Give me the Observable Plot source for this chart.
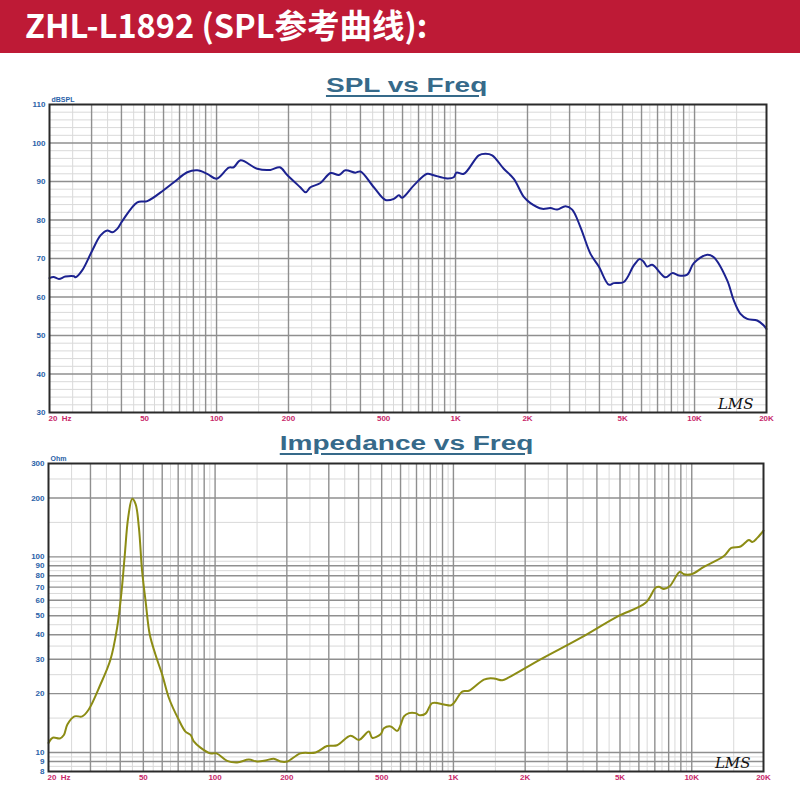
<!DOCTYPE html>
<html>
<head>
<meta charset="utf-8">
<script src="https://cdn.jsdelivr.net/npm/d3@7"></script>
<script src="https://cdn.jsdelivr.net/npm/@observablehq/plot@0.6"></script>
<style>
  html, body { margin: 0; padding: 0; background: #fff; }
  #page { position: relative; width: 800px; height: 800px; overflow: hidden; background: #fff; }
  #header { position: absolute; left: 0; top: 0; width: 800px; height: 53px; background: #BE1A36; }
  #header span { position: absolute; left: 25px; top: 4px; font-family: "Noto Sans CJK SC", "Noto Sans", sans-serif; font-weight: 700; font-size: 32.5px; line-height: 40px; color: #fff; white-space: nowrap; }
  .title { position: absolute; left: 0; width: 814px; text-align: center; }
  .title span { display: inline-block; transform: scaleX(1.4); transform-origin: center; font-family: "Liberation Sans", Arial, sans-serif; font-weight: 700; font-size: 20px; line-height: 20px; color: #366A8A; text-decoration: underline; text-decoration-thickness: 2px; text-underline-offset: 3px; white-space: nowrap; }
  .chart { position: absolute; left: 0; }
</style>
</head>
<body>
<div id="page">
  <div id="header"><span>ZHL-L1892 (SPL参考曲线):</span></div>
  <div class="title" style="top:75px"><span>SPL vs Freq</span></div>
  <div class="title" style="top:433px"><span>Impedance vs Freq</span></div>
  <div class="chart" id="c1" style="top:60px"></div>
  <div class="chart" id="c2" style="top:440px"></div>
</div>
<script>
// ---- SPL data (Hz, dB SPL) ----
const splFreq = [20,20.8,21.9,23.3,25.3,25.7,27.4,30.2,32.7,34.9,36.6,38.4,40.3,46.6,51.3,60.2,66.3,75.4,83,91.4,100,112.5,118,126,148,168,184,197.5,224,236,247,272,300,325,346,381,400,455,509,552,579,598,669,761,811,923,983,1009,1083,1251,1334,1423,1591,1753,1930,2058,2304,2496,2662,2884,3076,3333,3670,3976,4378,4594,5058,5570,5902,6134,6336,6650,7558,8062,8594,9318,9928,11298,12038,13696,14594,15566,16606,18290,19486,20000];
const splDb = [64.9,65.2,64.7,65.3,65.4,65.1,66.9,72.1,76,77.3,76.8,77.7,79.7,84.6,84.9,87.8,89.8,92.4,92.9,92.0,90.7,93.6,93.7,95.5,93.3,93.0,93.7,91.7,88.5,87.2,88.5,89.6,92.2,91.7,92.9,92.3,92.6,88.5,85.2,85.5,86.4,85.8,89.0,92.0,91.6,90.8,91.1,92.3,92.0,96.8,97.2,96.8,93.3,90.7,86.0,84.4,82.9,83.1,82.7,83.6,82.7,78.1,71.2,67.9,63.2,63.6,63.9,68.2,69.9,69.1,67.9,68.4,65.1,66.2,65.6,65.8,68.8,71.0,70.3,64.3,59.1,55.6,54.3,53.9,52.6,51.7];

// ---- Impedance data (Hz, Ohm) ----
const impFreq = [20,20.85,22.3,23.2,24.0,25.7,27.7,29.5,33.0,36.4,38.8,40.4,41.7,43.2,44.9,46.4,47.9,49.4,51.1,53.2,56.2,60.0,64.0,70.4,75.1,78.9,81.4,86.8,95.6,101.4,112.4,123.9,138.5,150.2,162.7,176.4,188.2,200.8,228,264,295,325,370,401,442,456,495,511,545,581,600,620,650,694,723,764,815,912,973,1004,1089,1161,1342,1431,1502,1603,1708,2321,3416,4870,6401,7051,7280,7641,8096,8917,9268,9955,11244,13642,14652,16028,17368,17950,18837,20000];
const impOhm = [11.2,11.9,11.8,12.3,13.9,15.3,15.3,16.6,22.2,29.9,43.4,64.4,99,159,198,186,141,84.7,59.4,40.1,31.7,25.0,19.0,14.7,12.8,12.3,11.4,10.6,9.9,9.9,9.07,8.9,9.2,9.0,9.1,9.3,9.0,9.0,9.9,10.0,10.8,10.9,12.2,11.6,12.8,11.9,12.4,13.3,13.6,12.9,13.8,15.3,15.9,15.9,15.5,15.8,17.9,17.6,17.4,17.9,20.5,20.7,23.6,24.0,23.8,23.4,24.2,29.9,38.5,49.5,58.2,69.5,70.3,68.6,71.0,84.0,81.5,81.5,88.9,101,111,113,122,119,125,136];

// ---- Axes / grid ----
const xTicks = [50,100,200,500,1000,2000,5000,10000,20000];
const xTickLabels = ["50","100","200","500","1K","2K","5K","10K","20K"];
const xMajor = [30,40,50,60,70,80,90,100,200,300,400,500,600,700,800,900,1000,2000,3000,4000,5000,6000,7000,8000,9000,10000];
const xMinor = [25,35,45,55,65,75,85,95,150,250,350,450,550,650,750,850,950,1500,2500,3500,4500,5500,6500,7500,8500,9500,15000];
const splTicks = [30,40,50,60,70,80,90,100,110];
const splMinor = [32,34,36,38,42,44,46,48,52,54,56,58,62,64,66,68,72,74,76,78,82,84,86,88,92,94,96,98,102,104,106,108];
const impTicks = [8,9,10,20,30,40,50,60,70,80,90,100,200,300];
const impMajor = [9,10,20,30,40,50,60,70,80,90,100,200];
const impMinor = [8.5,9.5,15,25,35,45,55,65,75,85,95,150,250];

const xLabelMap = new Map(xTicks.map((t, i) => [t, xTickLabels[i]]));
const splData = splFreq.map((f, i) => ({f, v: splDb[i]}));
const impData = impFreq.map((f, i) => ({f, v: impOhm[i]}));

const tickFont = {fontSize: 8, fontWeight: "bold"};
const yLabelColor = "#2A62A8";
const xLabelColor = "#C8286A";
const majorStroke = "#8F8F8F";
const minorStroke = "#D9D9D9";

function chart({data, yType, yDomain, yTicks, yMajor, yMinor, unit, stroke, height, margins}) {
  return Plot.plot({
    width: 800,
    height,
    ...margins,
    style: {background: "transparent", fontFamily: "'Liberation Sans', Arial, sans-serif", overflow: "visible"},
    x: {type: "log", domain: [20, 20000], axis: null},
    y: {type: yType, domain: yDomain, axis: null},
    marks: [
      Plot.ruleY(yMinor, {stroke: minorStroke, strokeWidth: 1}),
      Plot.ruleX(xMinor, {stroke: minorStroke, strokeWidth: 1}),
      Plot.ruleY(yMajor, {stroke: majorStroke, strokeWidth: 1.4}),
      Plot.ruleX(xMajor, {stroke: majorStroke, strokeWidth: 1.4}),
      Plot.line(data, {x: "f", y: "v", stroke, strokeWidth: 2, curve: "catmull-rom"}),
      Plot.frame({stroke: "#2A2A2A", strokeWidth: 2}),
      // y tick labels
      Plot.text(yTicks, {y: d => d, text: d => String(d), frameAnchor: "left", textAnchor: "end", dx: -4, ...tickFont, fill: yLabelColor}),
      // x tick labels
      Plot.text(xTicks, {x: d => d, text: d => xLabelMap.get(d), frameAnchor: "bottom", lineAnchor: "top", dy: 3, ...tickFont, fill: xLabelColor}),
      Plot.text([20], {x: d => d, text: () => "20\u00a0\u00a0Hz", frameAnchor: "bottom", textAnchor: "start", lineAnchor: "top", dy: 3, dx: -1, ...tickFont, fill: xLabelColor}),
      Plot.text([unit], {text: d => d, frameAnchor: "top-left", textAnchor: "start", dx: 2, dy: -7, fontSize: 7, fontWeight: "bold", fill: yLabelColor}),
      Plot.text(["LMS"], {text: d => d, frameAnchor: "bottom-right", textAnchor: "end", lineAnchor: "bottom", dx: -13, dy: -4, fontSize: 15, fontStyle: "italic", fontFamily: "'DejaVu Serif', serif", fill: "#111"})
    ]
  });
}

document.getElementById("c1").append(chart({
  data: splData, yType: "linear", yDomain: [30, 110], yTicks: splTicks,
  yMajor: splTicks.slice(1, -1), yMinor: splMinor, unit: "dBSPL", stroke: "#1C2290",
  height: 380, margins: {marginLeft: 49, marginRight: 34, marginTop: 44, marginBottom: 28}
}));

document.getElementById("c2").append(chart({
  data: impData, yType: "log", yDomain: [8, 300], yTicks: impTicks,
  yMajor: impMajor, yMinor: impMinor, unit: "Ohm", stroke: "#8C8C14",
  height: 360, margins: {marginLeft: 48, marginRight: 37, marginTop: 23, marginBottom: 29}
}));
</script>
</body>
</html>
